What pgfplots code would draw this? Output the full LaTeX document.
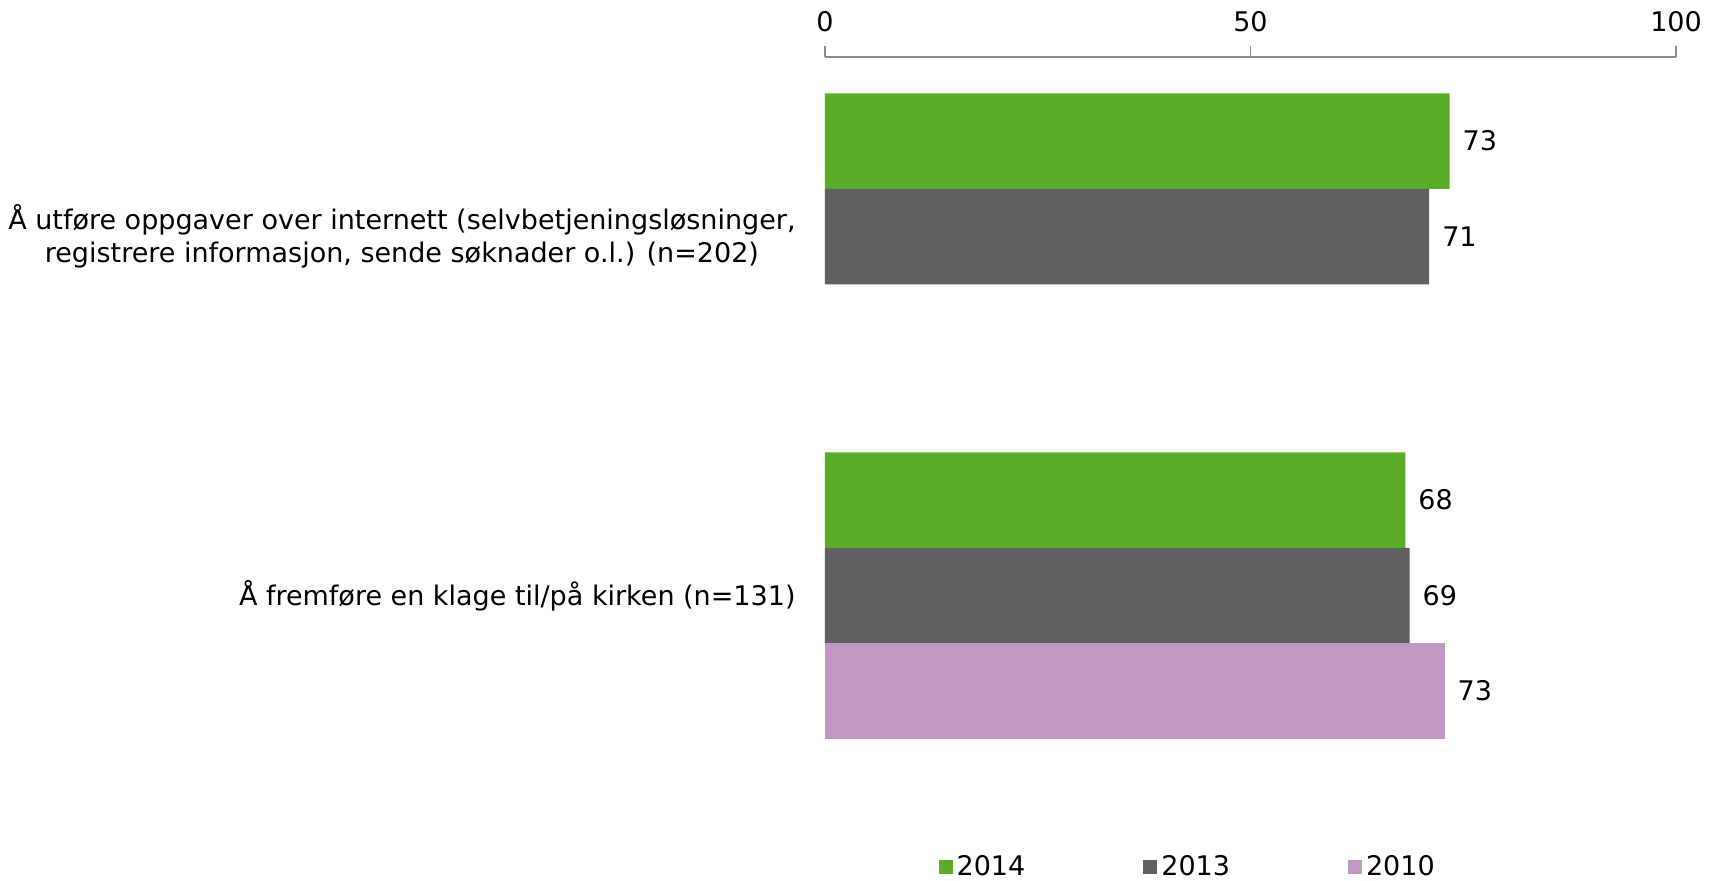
\documentclass[border=0pt]{standalone}
\usepackage{fontspec}
\setmainfont{DejaVu Sans}
\usepackage{pgfplots}
\pgfplotsset{compat=1.18}

\definecolor{c2014}{HTML}{5BAD29}
\definecolor{c2013}{HTML}{5F6062}
\definecolor{c2010}{HTML}{C298C4}
\definecolor{axgray}{HTML}{8C8C8C}

\begin{document}
\begin{tikzpicture}
\begin{axis}[
  scale only axis,
  width=425.5pt, height=359pt,
  xmin=0, xmax=100,
  ymin=-0.5, ymax=1.5,
  y dir=reverse,
  clip=false,
  axis x line*=top,
  axis y line*=left,
  x axis line style={-, draw=axgray, line width=0.8pt},
  y axis line style={draw=none},
  xtick={0,50,100},
  tick align=outside,
  major tick length=5.5pt,
  xtick style={draw=axgray, line width=0.8pt},
  ytick style={draw=none},
  ytick={0,1},
  yticklabels={{Å utføre oppgaver over internett (selvbetjeningsløsninger,\\registrere informasjon, sende søknader o.l.) (n=202)},
               {Å fremføre en klage til/på kirken (n=131)}},
  yticklabel style={align=center, inner sep=0pt, xshift=-9pt},
  xticklabel style={yshift=3.5pt},
  /pgf/number format/assume math mode=true,
  ticklabel style={font=\fontsize{13.5}{16.5}\selectfont},
  xbar,
  bar width=0.266,
  nodes near coords,
  nodes near coords style={font=\fontsize{13.5}{16.5}\selectfont, xshift=3pt,
    /pgf/number format/.cd, fixed, precision=0, assume math mode=true},
  legend columns=3,
  legend style={at={(axis cs:12.6,1.757)}, anchor=west, draw=none,
    font=\fontsize{13.5}{16.5}\selectfont,
    /tikz/every even column/.append style={column sep=57pt}},
  legend image code/.code={\fill[#1] (0pt,-3.5pt) rectangle (7pt,3.5pt);},
]
\addplot[fill=c2014, draw=none, bar shift=-0.266] coordinates {(73.4,0) (68.2,1)};
\addplot[fill=c2013, draw=none, bar shift=0] coordinates {(71.0,0) (68.7,1)};
\addplot[fill=c2010, draw=none, bar shift=0.266] coordinates {(72.8,1)};
\legend{2014,2013,2010}
\coordinate (bbl) at (axis cs:-96.94,1.7925);
\coordinate (btr) at (axis cs:104.11,-0.6588);
\end{axis}
\pgfresetboundingbox
\path[use as bounding box] (bbl) rectangle (btr);
\end{tikzpicture}
\end{document}
